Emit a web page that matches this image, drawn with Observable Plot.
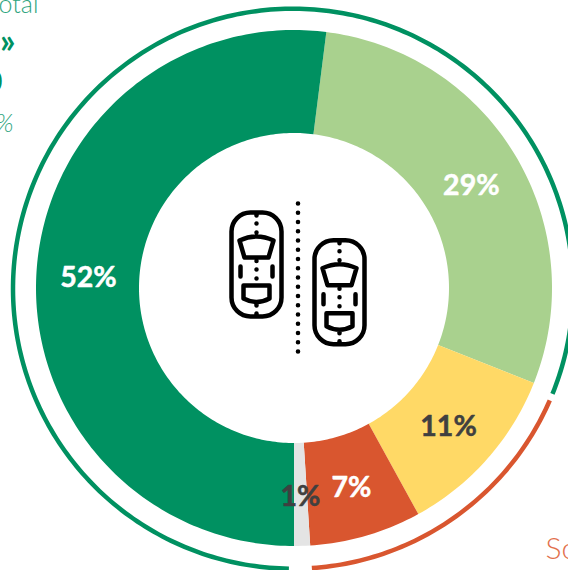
<!DOCTYPE html>
<html>
<head>
<meta charset="utf-8">
<script src="https://cdn.jsdelivr.net/npm/d3@7"></script>
<script src="https://cdn.jsdelivr.net/npm/@observablehq/plot@0.6"></script>
<style>
html,body{margin:0;padding:0;background:#fff}
#chart{width:568px;height:570px;overflow:hidden}
svg{display:block}
</style>
</head>
<body>
<div id="chart"></div>
<script>
// Slices, clockwise from the light-green one
const sliceNames = ["A", "B", "C", "D", "E"];
const sliceValues = [29, 11, 7, 1, 52];
const sliceLabels = ["29%", "11%", "7%", "1%", "52%"];
const sliceColors = ["#A9D18E", "#FFD966", "#D9562F", "#E4E4E4", "#009161"];
const labelColors = ["#ffffff", "#404040", "#ffffff", "#404040", "#ffffff"];

// Outer ring: share of the circle covered by each arc, clockwise
const ringNames = ["ring 1", "ring 2"];
const ringShares = [17.4, 80.9];
const ringColors = ["#D9562F", "#009161"];

// Cropped text left over at the picture's edges
const edgeTexts = ["total", "»", "0", "%", "So"];

const W = 568, H = 570;
const cx = 294, cy = 288, rIn = 155, rOut = 258, rLabel = 206;
const ringCx = 292.5, ringCy = 288.2, ringR = 280;
const startDeg = 7.2, ringStartDeg = 113.5, ringGap = 4.7;

const pol = (c, d, r, deg) => {
  const a = deg * Math.PI / 180;
  return [c + r * Math.sin(a), d - r * Math.cos(a)];
};

// Build the donut from the values
const total = d3.sum(sliceValues);
const slicePts = [], labelPts = [];
let acc = 0;
sliceValues.forEach((v, i) => {
  const a0 = startDeg + acc / total * 360;
  const a1 = startDeg + (acc + v) / total * 360;
  const n = Math.max(4, Math.ceil(a1 - a0));
  for (let k = 0; k <= n; k++) {
    const a = a0 + (a1 - a0) * k / n;
    const [xi, yi] = pol(cx, cy, rIn, a);
    const [xo, yo] = pol(cx, cy, rOut, a);
    slicePts.push({name: sliceNames[i], xi, yi, xo, yo});
  }
  const [lx, ly] = pol(cx, cy, rLabel, (a0 + a1) / 2);
  labelPts.push({x: lx - 0.5, y: ly + 2, label: sliceLabels[i], color: labelColors[i]});
  acc += v;
});

// Build the outer ring from its shares
const ringPts = [];
let ra = ringStartDeg;
ringShares.forEach((s, i) => {
  const span = s / 100 * 360;
  const n = Math.ceil(span);
  for (let k = 0; k <= n; k++) {
    const [x, y] = pol(ringCx, ringCy, ringR, ra + span * k / n);
    ringPts.push({name: ringNames[i], x, y});
  }
  ra += span + ringGap;
});

// Car pictogram as a Plot symbol
const car = {
  draw(c) {
    // body
    const w = 25, h = 52, r = 19;
    c.moveTo(-w + r, -h);
    c.lineTo(w - r, -h);
    c.arcTo(w, -h, w, -h + r, r);
    c.lineTo(w, h - r);
    c.arcTo(w, h, w - r, h, r);
    c.lineTo(-w + r, h);
    c.arcTo(-w, h, -w, h - r, r);
    c.lineTo(-w, -h + r);
    c.arcTo(-w, -h, -w + r, -h, r);
    c.closePath();
    // windshield
    c.moveTo(-17, -24);
    c.quadraticCurveTo(0, -32, 17, -24);
    c.lineTo(12, -7);
    c.lineTo(-12, -7);
    c.closePath();
    // rear window
    c.moveTo(-13, 21);
    c.lineTo(13, 21);
    c.lineTo(13, 34);
    c.quadraticCurveTo(0, 41, -13, 34);
    c.closePath();
    // side marks
    c.moveTo(-16, 2); c.lineTo(-16, 12);
    c.moveTo(16, 2); c.lineTo(16, 12);
    // centre-line dots and ticks
    for (const y of [-41, -32, -3.5, 5, 14]) { c.moveTo(0, y); c.lineTo(0, y + 0.01); }
    c.moveTo(0, -52); c.lineTo(0, -49);
    c.moveTo(0, 49); c.lineTo(0, 52);
    c.moveTo(0, 38); c.lineTo(0, 41);
  }
};
const carPts = [{x: 256, y: 264}, {x: 339, y: 291.7}];

const edgePts = [
  {x: 38, y: 4, t: edgeTexts[0], a: "end", fs: 25, w: 300, col: "#2FA580", st: "normal"},
  {x: 15, y: 42, t: edgeTexts[1], a: "end", fs: 34, w: 700, col: "#009161", st: "normal"},
  {x: 2, y: 82, t: edgeTexts[2], a: "end", fs: 30, w: 700, col: "#009161", st: "normal"},
  {x: 13, y: 123, t: edgeTexts[3], a: "end", fs: 25, w: 300, col: "#2FA580", st: "italic"},
  {x: 545, y: 549, t: edgeTexts[4], a: "start", fs: 30, w: 300, col: "#E2704C", st: "normal"}
];

const chart = Plot.plot({
  width: W, height: H,
  margin: 0,
  style: {background: "#fff", overflow: "hidden"},
  x: {domain: [0, W], range: [0, W], axis: null},
  y: {domain: [0, H], range: [0, H], axis: null},
  color: {domain: [...sliceNames, ...ringNames], range: [...sliceColors, ...ringColors]},
  marks: [
    Plot.area(slicePts, {x1: "xi", y1: "yi", x2: "xo", y2: "yo", z: "name", fill: "name", curve: "linear"}),
    Plot.line(ringPts, {x: "x", y: "y", z: "name", stroke: "name", strokeWidth: 4.5, curve: "linear", strokeLinecap: "butt"}),
    Plot.ruleX([297.5], {y1: 203.5, y2: 353, stroke: "#000", strokeWidth: 4.6, strokeDasharray: "0 9.25", strokeLinecap: "round"}),
    Plot.dot(carPts, {x: "x", y: "y", r: 10, symbol: car, fill: "none", stroke: "#000", strokeWidth: 4.5, strokeLinecap: "round", strokeLinejoin: "round"}),
    Plot.text(labelPts, {x: "x", y: "y", text: "label", fill: d => d.color, stroke: d => d.color, strokeWidth: 0.5, fontSize: 28.5, fontWeight: 700, fontFamily: "Lato", textAnchor: "middle", lineAnchor: "middle"}),
    ...edgePts.map(d => Plot.text([d], {x: "x", y: "y", text: "t", textAnchor: d.a, fill: d.col, fontSize: d.fs, fontWeight: d.w, fontStyle: d.st, fontFamily: "Lato", lineAnchor: "middle"}))
  ]
});
document.getElementById("chart").appendChild(chart);
</script>
</body>
</html>
